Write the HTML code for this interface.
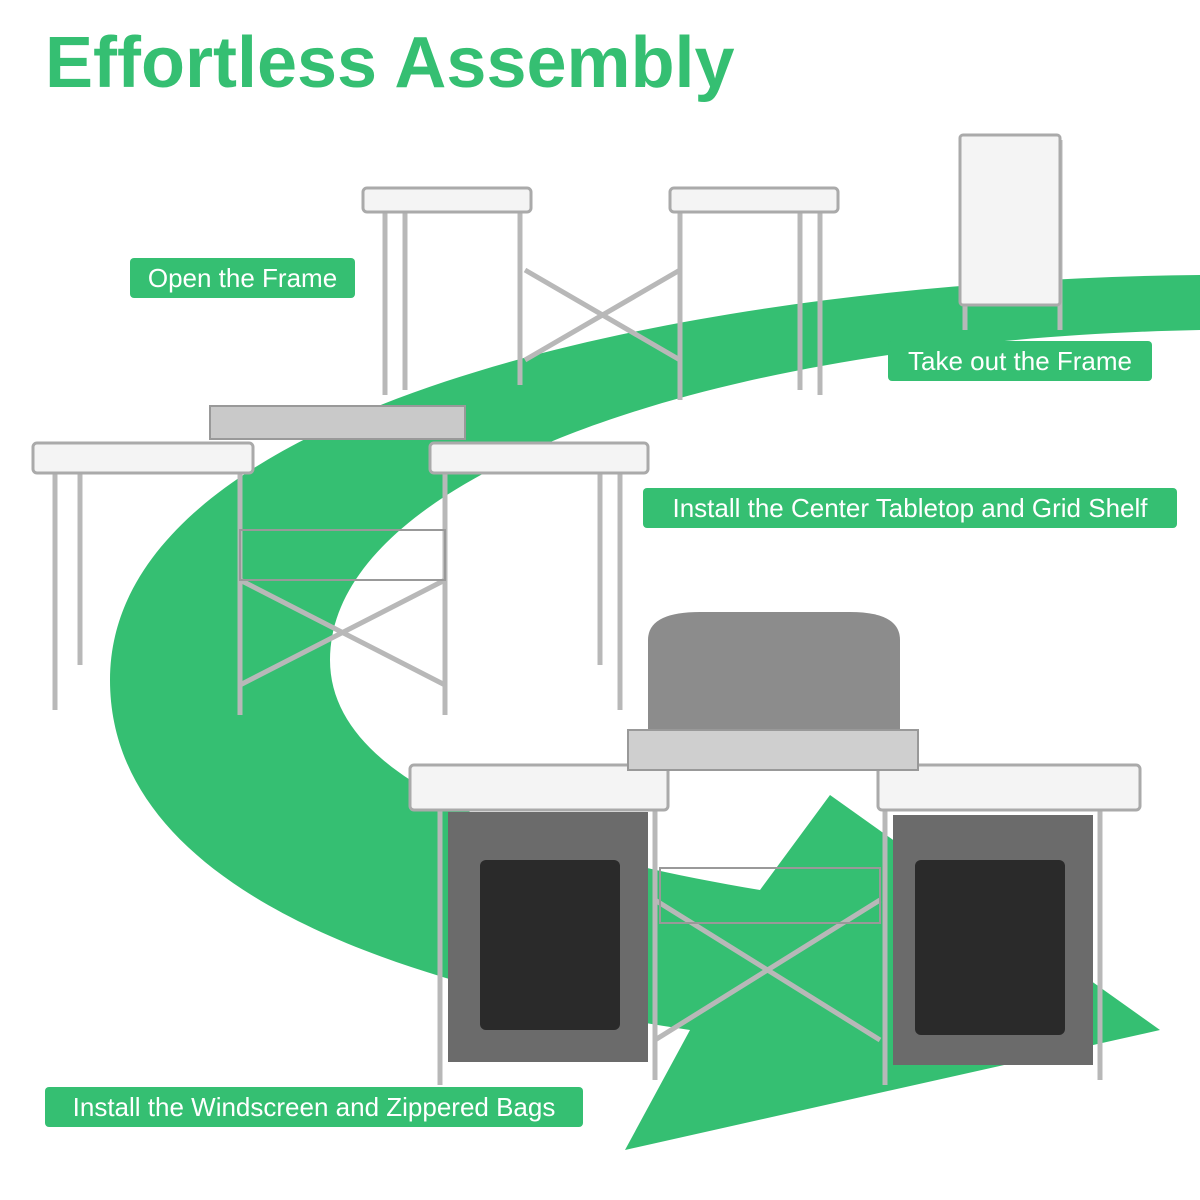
<!DOCTYPE html>
<html><head><meta charset="utf-8"><style>
body{margin:0;background:#fff;width:1200px;height:1200px;overflow:hidden;position:relative;font-family:"Liberation Sans",sans-serif}
h1{position:absolute;left:45px;top:22px;margin:0;font-size:72px;font-weight:bold;color:#35bf72;letter-spacing:0px}
.lb{position:absolute;background:#35bf72;color:#fff;font-size:26px;border-radius:4px;height:40px;line-height:40px;text-align:center}
svg{position:absolute;left:0;top:0}
</style></head><body>
<svg width="1200" height="1200">
<path d="M1200,275 C700,280 110,400 110,680 C110,870 350,980 690,1030 L625,1150 L1160,1030 L830,795 L760,890 C520,850 330,780 330,660 C330,480 700,340 1200,330 Z" fill="#35bf72"/>
<g stroke="#b8b8b8" stroke-width="5" fill="none">
<path d="M385,210 V395 M405,210 V390 M520,210 V385 M800,210 V390 M820,210 V395 M680,210 V400 M525,270 L680,360 M680,270 L525,360"/>
<path d="M55,470 V710 M80,470 V665 M240,470 V715 M445,470 V715 M600,470 V665 M620,470 V710 M240,580 L445,685 M445,580 L240,685"/>
<path d="M440,810 V1085 M655,810 V1080 M885,810 V1085 M1100,810 V1080 M655,900 L880,1040 M880,900 L655,1040"/>
<path d="M965,140 V330 M1060,140 V330"/>
</g>
<g fill="#f4f4f4" stroke="#aaa" stroke-width="3">
<rect x="363" y="188" width="168" height="24" rx="4"/>
<rect x="670" y="188" width="168" height="24" rx="4"/>
<rect x="33" y="443" width="220" height="30" rx="4"/>
<rect x="430" y="443" width="218" height="30" rx="4"/>
<rect x="410" y="765" width="258" height="45" rx="4"/>
<rect x="878" y="765" width="262" height="45" rx="4"/>
<rect x="960" y="135" width="100" height="170" rx="3"/>
</g>
<rect x="210" y="406" width="255" height="33" fill="#c9c9c9" stroke="#999" stroke-width="2"/>
<rect x="240" y="530" width="205" height="50" fill="none" stroke="#999" stroke-width="2"/>
<path d="M648,740 V640 Q648,612 700,612 H850 Q900,612 900,640 V740 Z" fill="#8c8c8c"/>
<rect x="628" y="730" width="290" height="40" fill="#cfcfcf" stroke="#999" stroke-width="2"/>
<rect x="660" y="868" width="220" height="55" fill="none" stroke="#999" stroke-width="2"/>
<rect x="448" y="812" width="200" height="250" fill="#6b6b6b"/>
<rect x="480" y="860" width="140" height="170" fill="#2a2a2a" rx="6"/>
<rect x="893" y="815" width="200" height="250" fill="#6b6b6b"/>
<rect x="915" y="860" width="150" height="175" fill="#2a2a2a" rx="6"/>
</svg>
<h1>Effortless Assembly</h1>
<div class="lb" style="left:130px;top:258px;width:225px">Open the Frame</div>
<div class="lb" style="left:888px;top:341px;width:264px">Take out the Frame</div>
<div class="lb" style="left:643px;top:488px;width:534px">Install the Center Tabletop and Grid Shelf</div>
<div class="lb" style="left:45px;top:1087px;width:538px">Install the Windscreen and Zippered Bags</div>
</body></html>
